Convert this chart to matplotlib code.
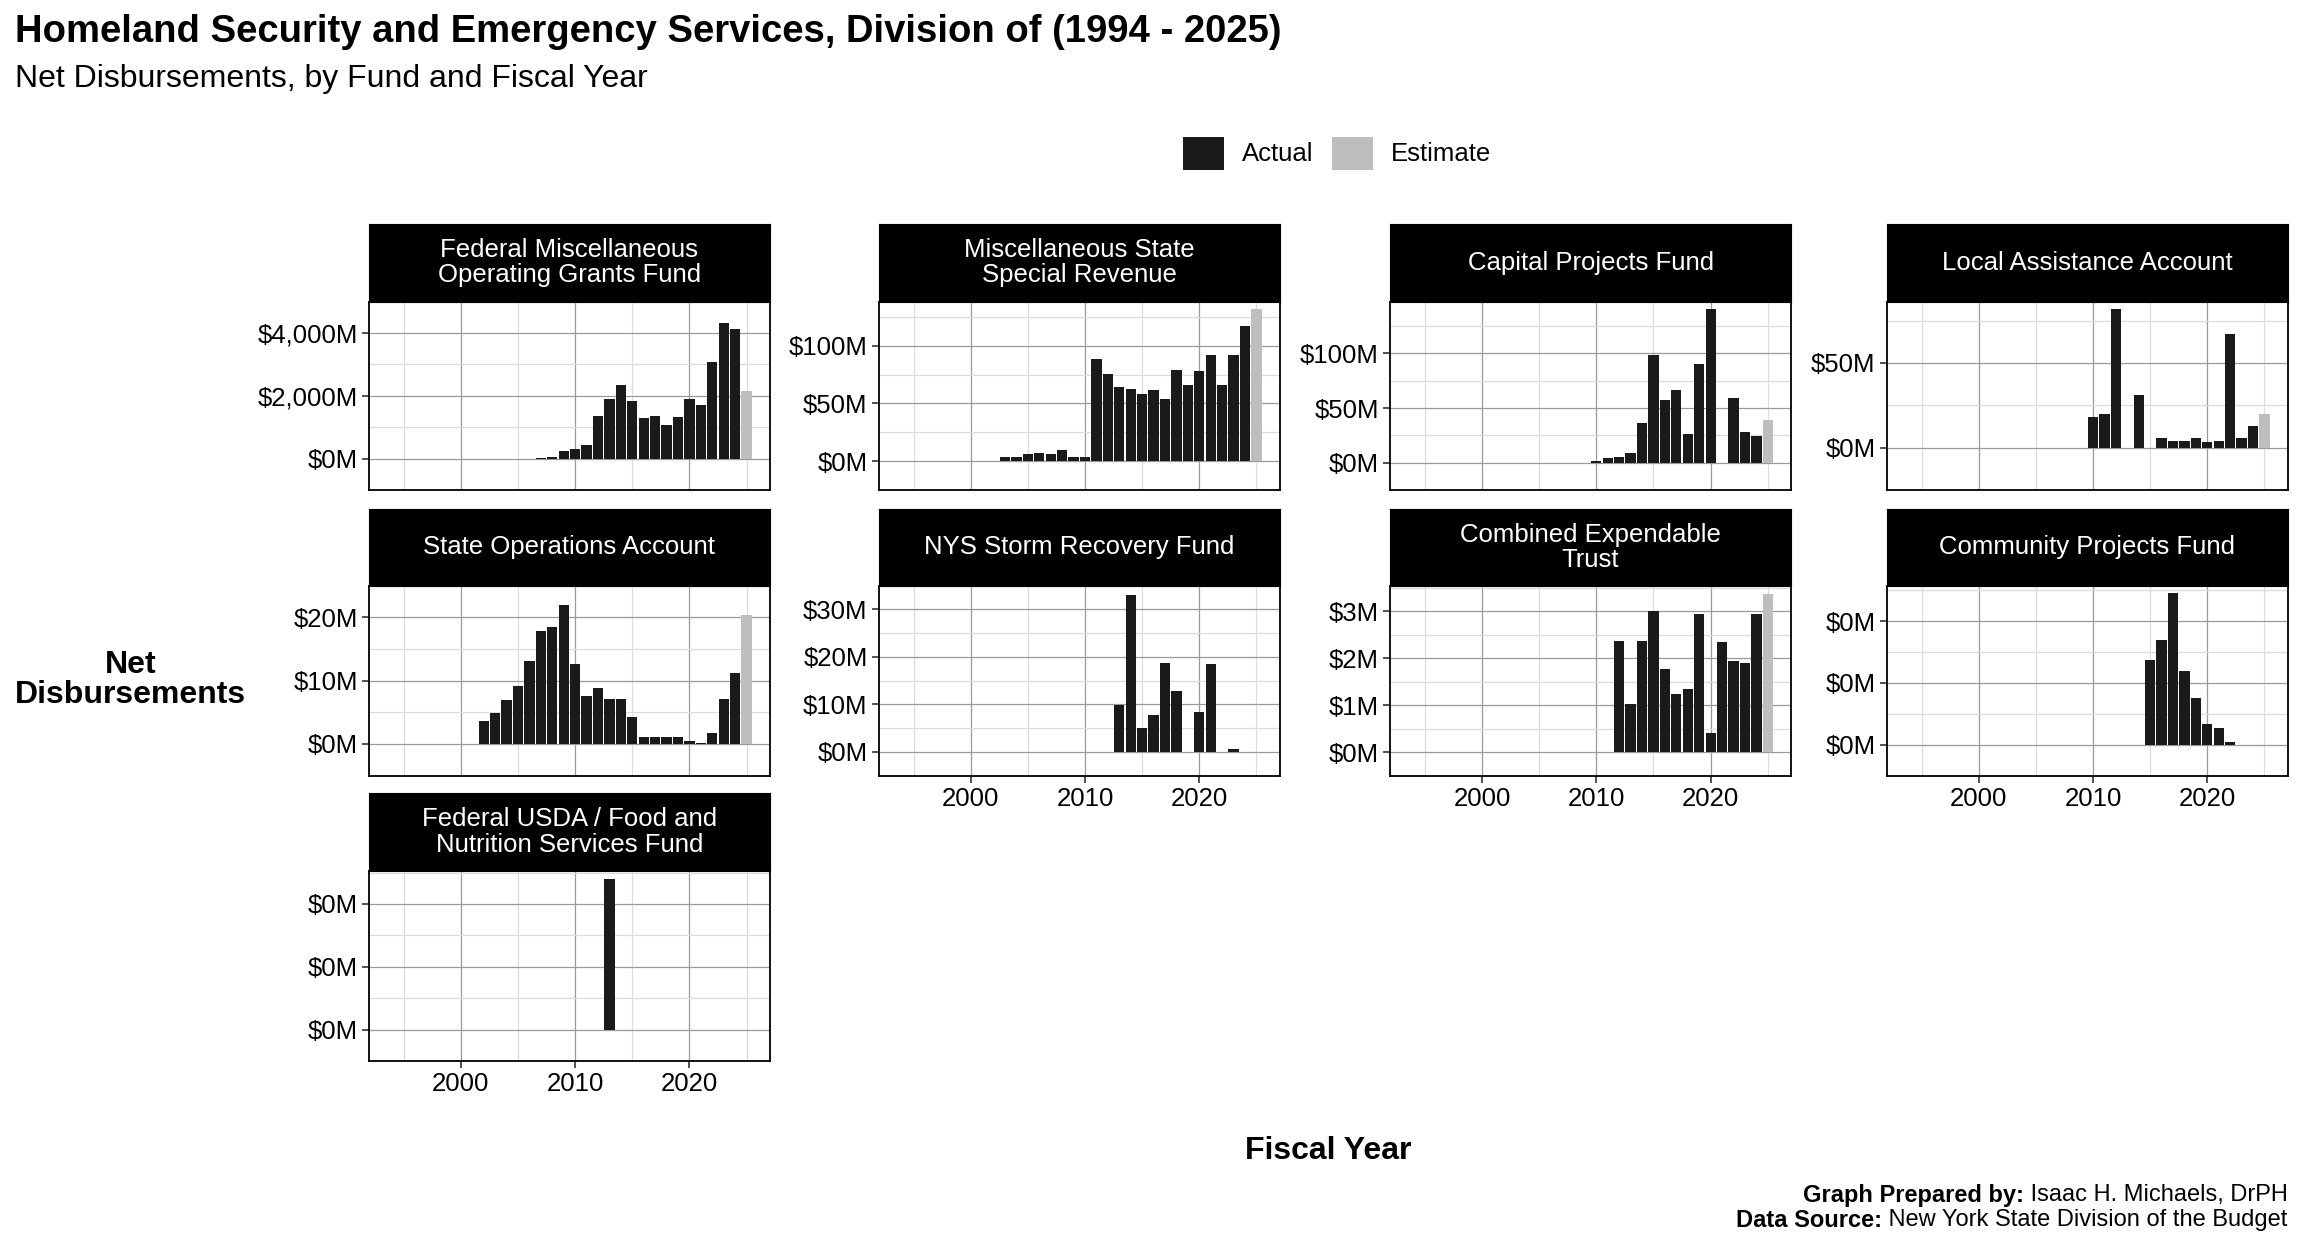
import matplotlib
matplotlib.use("Agg")
import matplotlib.pyplot as plt
from matplotlib.patches import Patch

plt.rcParams['font.family'] = ['Liberation Sans', 'DejaVu Sans']

# Net disbursements in $ millions, by fund; None = no disbursement that year
first_year = 1994
last_year = 2025
estimate_year = 2025

fund_names = [
    "Federal Miscellaneous\nOperating Grants Fund",
    "Miscellaneous State\nSpecial Revenue",
    "Capital Projects Fund",
    "Local Assistance Account",
    "State Operations Account",
    "NYS Storm Recovery Fund",
    "Combined Expendable\nTrust",
    "Community Projects Fund",
    "Federal USDA / Food and\nNutrition Services Fund",
]
fund_start = [2007, 2003, 2010, 2010, 2002, 2013, 2012, 2015, 2013]

fed_misc = [30, 60, 257, 306, 430, 1375, 1896, 2343, 1822, 1300,
            1375, 1076, 1325, 1896, 1697, 3064, 4306, 4132, 2145]
misc_state = [3.3, 3.3, 6.3, 7.1, 6.3, 9.4, 3.3, 3.3, 88.4, 75.4, 64.1, 62.5,
              58.0, 61.8, 54.2, 79.2, 65.6, 78.5, 92.2, 65.6, 92.2, 117.2, 131.6]
capital = [1.9, 4.3, 5.1, 9.2, 36.7, 98.9, 56.9, 66.6, 26.1, 90.0, 140.2,
           None, 59.3, 27.8, 24.5, 39.1]
local_assist = [18, 20, 82, None, 31, None, 5.5, 4, 4, 5.5, 3.5, 4, 67, 6, 12.5, 20]
state_ops = [3.7, 4.9, 6.9, 9.2, 13.1, 17.8, 18.5, 22.0, 12.7, 7.5, 8.8, 7.1,
             7.1, 4.3, 1.1, 1.1, 1.1, 1.1, 0.4, 0.2, 1.7, 7.1, 11.2, 20.4]
storm = [9.8, 33, 5, 7.8, 18.8, 12.9, None, 8.4, 18.5, None, 0.6]
trust = [2.37, 1.03, 2.37, 3.0, 1.77, 1.23, 1.34, 2.94, 0.4, 2.34, 1.94, 1.89, 2.94, 3.37]
community = [0.0275, 0.034, 0.049, 0.024, 0.015, 0.0067, 0.0054, 0.0008]
usda = [0.024]

fund_values = [fed_misc, misc_state, capital, local_assist, state_ops,
               storm, trust, community, usda]

y_ticks = [
    [0, 2000, 4000],
    [0, 50, 100],
    [0, 50, 100],
    [0, 50],
    [0, 10, 20],
    [0, 10, 20, 30],
    [0, 1, 2, 3],
    [0, 0.02, 0.04],
    [0, 0.01, 0.02],
]
x_ticks = [2000, 2010, 2020]
x_minor = [1995, 2005, 2015, 2025]

ACTUAL = '#1a1a1a'
ESTIMATE = '#bebebe'

W, H = 1568, 848  # layout measured in these units
fig = plt.figure(figsize=(23.04, 12.48), dpi=100)

col_left = [251, 598, 946, 1284]
col_w = 273
rows = [(152, 205, 333), (346, 398, 527), (539, 592, 721)]
bottom_row = {0: 2, 1: 1, 2: 1, 3: 1}

span = (last_year + 0.45) - (first_year - 0.45)
xlim = (first_year - 0.45 - 0.05 * span, last_year + 0.45 + 0.05 * span)

for i, name in enumerate(fund_names):
    r, c = divmod(i, 4)
    st, pt, pb = rows[r]
    l = col_left[c]
    ax = fig.add_axes([l / W, 1 - pb / H, col_w / W, (pb - pt) / H])
    sax = fig.add_axes([l / W, 1 - pt / H, col_w / W, (pt - st) / H])
    sax.set_facecolor('black')
    sax.set_xticks([])
    sax.set_yticks([])
    for s in sax.spines.values():
        s.set_color('black')
    sax.text(0.5, 0.5, name, color='white', ha='center', va='center',
             fontsize=18.5, linespacing=1.08, transform=sax.transAxes)

    vals = fund_values[i]
    yrs = [fund_start[i] + k for k in range(len(vals))]
    xs = [y for y, v in zip(yrs, vals) if v is not None]
    vs = [v for v in vals if v is not None]
    colors = [ESTIMATE if y == estimate_year else ACTUAL for y in xs]
    ax.bar(xs, vs, width=0.9, color=colors, zorder=3)

    vmax = max(vs)
    ax.set_ylim(-0.05 * vmax, 1.05 * vmax)
    ax.set_xlim(*xlim)
    yt = y_ticks[i]
    step = yt[1] - yt[0]
    ax.set_yticks(yt)
    ax.set_yticks([t + step / 2 for t in [yt[0] - step] + yt], minor=True)
    ax.set_yticklabels([f"${t:,.0f}M" for t in yt])
    ax.set_xticks(x_ticks)
    ax.set_xticks(x_minor, minor=True)
    ax.grid(which='major', color='#9a9a9a', lw=0.9, zorder=0)
    ax.grid(which='minor', color='#dcdcdc', lw=0.9, zorder=0)
    ax.tick_params(which='major', labelsize=18.5, length=5, width=1.2,
                   color='#333333', labelcolor='black', pad=3)
    ax.tick_params(which='minor', length=0)
    if r != bottom_row[c]:
        ax.tick_params(axis='x', which='major', length=0, labelbottom=False)
    for s in ax.spines.values():
        s.set_color('black')
        s.set_linewidth(1.3)

fig.text(10 / W, 1 - 22 / H, "Homeland Security and Emergency Services, Division of (1994 - 2025)",
         fontsize=27.5, fontweight='bold', ha='left', va='center')
fig.text(10 / W, 1 - 54 / H, "Net Disbursements, by Fund and Fiscal Year",
         fontsize=23, ha='left', va='center')

handles = [Patch(facecolor=ACTUAL, label='Actual'), Patch(facecolor=ESTIMATE, label='Estimate')]
fig.legend(handles=handles, loc='center', bbox_to_anchor=(910 / W, 1 - 104 / H), ncol=2,
           frameon=False, fontsize=18.5, handlelength=1.6, handleheight=1.6,
           handletextpad=0.7, columnspacing=0.7)

fig.text(89 / W, 1 - 462 / H, "Net\nDisbursements", fontsize=23, fontweight='bold',
         ha='center', va='center', linespacing=1.0)
fig.text(904 / W, 1 - 782 / H, "Fiscal Year", fontsize=23, fontweight='bold',
         ha='center', va='center')

# caption: bold lead-in followed by regular text, right aligned
renderer = fig.canvas.get_renderer()
captions = [("Graph Prepared by:", " Isaac H. Michaels, DrPH", 812),
            ("Data Source:", " New York State Division of the Budget", 829)]
right = 1557 / W
for bold, rest, yp in captions:
    t = fig.text(right, 1 - yp / H, rest, fontsize=17, ha='right', va='center')
    wpx = t.get_window_extent(renderer).width
    fig.text(right - wpx / fig.bbox.width, 1 - yp / H, bold, fontsize=17,
             fontweight='bold', ha='right', va='center')

fig.savefig('out.png', dpi=100)
